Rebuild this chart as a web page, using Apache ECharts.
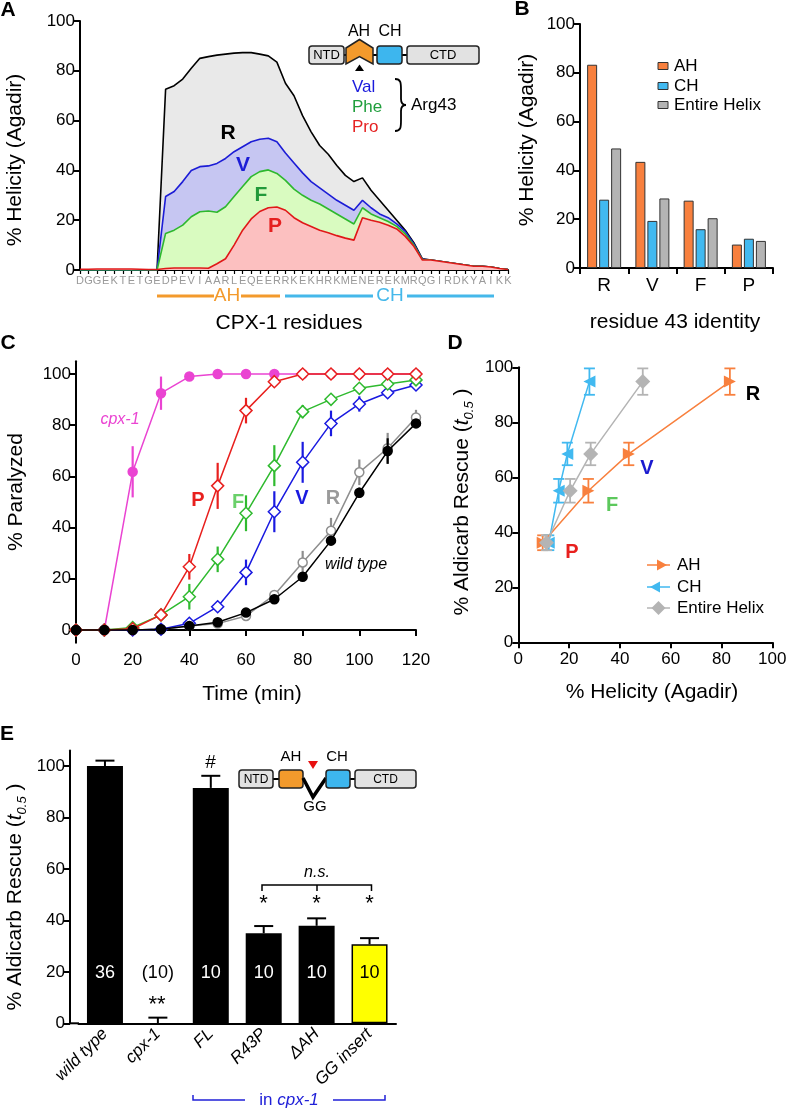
<!DOCTYPE html>
<html><head><meta charset="utf-8">
<script src="https://cdn.jsdelivr.net/npm/echarts@6.0.0/dist/echarts.min.js"></script>
<style>html,body{margin:0;padding:0;background:#fff}#c{width:789px;height:1110px}</style>
</head><body><div id="c"></div><script>
// ---------- DATA ----------
// Panel A
const residues = ['D','G','G','E','K','T','E','T','G','E','D','P','E','V','I','A','A','R','L','E','Q','E','E','R','R','K','E','K','H','R','K','M','E','N','E','R','E','K','M','R','Q','G','I','R','D','K','Y','A','I','K','K'];
const helixR = [0,0,0,0,0,0,0,0,0,0, 72.6,74,76.7,81,85,85.7,86.3,86.7,87.1,87.3, 87.3,86.7,86,83.5,75,70,62,55.5,50,46.5, 42,38,35.5,37,32,28,24,20,16,11, 4.5,4,3.5,3,2.5,2,1.5,1.5,1.2,0.6,0.2];
const helixV = [0,0,0,0,0,0,0,0,0,0, 29.5,31.5,35.5,40,41.5,41.8,42.8,44.8,47.5,49.5, 51.5,52.5,52.9,51.5,47,43,39,35.5,33,30.5, 28,26,24,28,25,22.5,21,18.5,15.5,10.5, 4.3,4,3.5,3,2.5,2,1.5,1.5,1.2,0.6,0.2];
const helixF = [0,0,0,0,0,0,0,0,0,0, 14.7,16,18,21.4,23.4,23.7,23.2,25.4,29.5,33.5, 37.5,39.5,40.2,38.8,36,32.5,30,28,26.5,24.5, 22.5,20.5,18.5,25,22.5,21,19.5,17.5,14.5,10, 4.2,4,3.5,3,2.5,2,1.5,1.5,1.2,0.6,0.2];
const helixP = [0.3,0.3,0.4,0.4,0.4,0.4,0.4,0.3,0.2,0.2, 0.6,0.8,0.8,0.8,0.8,0.7,2.5,4.5,10,16, 20.5,23.5,25,25.3,24,21,19,17.5,16,15, 13.8,12.8,12,21,20,19.2,18,16.5,13.5,9.5, 4,4,3.5,3,2.5,2,1.5,1.5,1.2,0.6,0.2];
// Panel B
const residue43 = ['R','V','F','P'];
const helAH = [83.3, 43.5, 27.6, 9.6];
const helCH = [28, 19.3, 15.9, 12];
const helEntire = [49, 28.5, 20.4, 11.1];
// Panel C
const times = [0,10,20,30,40,50,60,70,80,90,100,110,120];
const parCpx1 = [0,0,61.8,92.5,99,100,100,100,100,100,100,100,100];
const errCpx1 = [0,0,10,6.5,0,0,0,0,0,0,0,0,0];
const parP = [0,0,0.5,5.9,24.7,56.3,85.7,97,100,100,100,100,100];
const errP = [0,0,0,0,5,9,5,0,0,0,0,0,0];
const parF = [0,0,1,5.9,13,27.6,45.6,64.2,85.3,90.1,94.4,96.1,97.7];
const errF = [0,0,0,0,5,5,7,8,2.6,0,0,0,0];
const parV = [0,0,0,0.3,2.6,9.1,22.5,46.2,65.5,80.7,88.3,92.7,95.7];
const errV = [0,0,0,0,0,0,5,8,8,5,3,0,0];
const parR = [0,0,0,0.3,1.6,2.5,5.5,13.7,26.4,38.8,61.6,71,83];
const errR = [0,0,0,0,0,0,0,0,4.5,5,5,6,3];
const parWT = [0,0,0,0.3,1.6,3,6.8,12,20.8,34.9,53.6,69.9,80.7];
const errWT = [0,0,0,0,0,0,0,0,0,0,2,5,0];
// Panel D (x = helicity from panel B, y = rescue)
const rescueD = [94.8, 68.5, 55.1, 36.2];
const rescueErrD = [4.8, 4.1, 4.3, 2.7];
// Panel E
const eCats = ['wild type','cpx-1','FL','R43P','\u0394AH','GG insert'];
const eVals = [100, 0, 91.5, 35, 37.9, 30.7];
const eErr = [2.1, 2.2, 4.7, 2.8, 2.9, 2.4];
const eN = ['36','(10)','10','10','10','10'];
const eSig = ['', '**', '#', '*', '*', '*'];

// ---------- STYLE HELPERS ----------
const FONT = 'Arial, "Liberation Sans", Helvetica, sans-serif';
const C_AH = '#f8803e', C_CH = '#41b9f0', C_EN = '#b4b4b4';
function vAxis(o) {
  const base = {
    axisLine: {show: true, lineStyle: {color: '#000', width: 2}},
    axisTick: {show: true, length: 6, lineStyle: {color: '#000', width: 2}},
    axisLabel: {color: '#000', fontSize: 17, fontFamily: FONT, margin: 5},
    splitLine: {show: false}
  };
  for (const k in o) {
    if (base[k] && typeof o[k] === 'object' && !Array.isArray(o[k])) base[k] = Object.assign({}, base[k], o[k]);
    else base[k] = o[k];
  }
  return base;
}
function errSeries(data, color, xi, yi, cap, upOnly, lw) {
  return {
    type: 'custom', xAxisIndex: xi, yAxisIndex: yi, silent: true, z: 1,
    data: data,
    renderItem: function (params, api) {
      const x = api.value(0), y = api.value(1), e = api.value(2);
      const lo = api.coord([x, upOnly ? y : y - e]);
      const hi = api.coord([x, y + e]);
      const st = {stroke: color, lineWidth: lw || 2};
      const ch = [{type: 'line', shape: {x1: lo[0], y1: lo[1], x2: hi[0], y2: hi[1]}, style: st}];
      if (cap) {
        ch.push({type: 'line', shape: {x1: hi[0] - cap / 2, y1: hi[1], x2: hi[0] + cap / 2, y2: hi[1]}, style: st});
        if (!upOnly) ch.push({type: 'line', shape: {x1: lo[0] - cap / 2, y1: lo[1], x2: lo[0] + cap / 2, y2: lo[1]}, style: st});
      }
      return {type: 'group', children: ch};
    }
  };
}
function pairs(xs, ys) { return xs.map((x, i) => [x, ys[i]]); }
function errData(xs, ys, es) {
  const out = [];
  xs.forEach((x, i) => { if (es[i] > 0) out.push([x, ys[i], es[i]]); });
  return out;
}
function txt(x, y, s, o) {
  o = o || {};
  return {
    type: 'text', x: x, y: y, rotation: o.rot || 0, z: 100,
    style: Object.assign({
      text: s, fill: o.color || '#000', fontSize: o.size || 17, fontFamily: FONT,
      fontWeight: o.bold ? 'bold' : 'normal', fontStyle: o.italic ? 'italic' : 'normal',
      align: o.align || 'center', verticalAlign: 'middle'
    }, o.extra || {})
  };
}
function box(x1, x2, y1, y2, fill) {
  return {type: 'rect', z: 100, shape: {x: x1, y: y1, width: x2 - x1, height: y2 - y1, r: 3},
    style: {fill: fill, stroke: '#222', lineWidth: 1.5}};
}
function seg(x1, y1, x2, y2, color, w) {
  return {type: 'line', z: 100, shape: {x1, y1, x2, y2}, style: {stroke: color || '#000', lineWidth: w || 2}};
}
function poly(pts, fill, stroke, w) {
  return {type: 'polygon', z: 100, shape: {points: pts}, style: {fill: fill, stroke: stroke || null, lineWidth: w || 0}};
}
function pline(pts, color, w) {
  return {type: 'polyline', z: 100, shape: {points: pts}, style: {stroke: color, lineWidth: w || 2, fill: null}};
}
function bez(x1, y1, c1x, c1y, c2x, c2y, x2, y2) {
  return {type: 'bezierCurve', z: 100, shape: {x1, y1, cpx1: c1x, cpy1: c1y, cpx2: c2x, cpy2: c2y, x2, y2},
    style: {stroke: '#000', lineWidth: 1.8, fill: null}};
}

// ---------- GRIDS ----------
const grids = [
  {left: 80, top: 21, width: 428, height: 249},
  {left: 580, top: 24, width: 193, height: 244},
  {left: 76, top: 361.2, width: 340, height: 281.6},
  {left: 518.3, top: 367.3, width: 254, height: 275},
  {left: 78.5, top: 750.6, width: 317.5, height: 272.7}
].map(g => Object.assign({outerBoundsMode: 'none', containLabel: false}, g));

const ticks100 = [0, 20, 40, 60, 80, 100];

const xAxes = [
  vAxis({type: 'category', gridIndex: 0, data: residues, boundaryGap: false,
    axisTick: {length: 4, interval: 0, lineStyle: {width: 1.2}},
    axisLabel: {interval: 0, fontSize: 11, color: '#9a9a9a', margin: 5}}),
  vAxis({type: 'category', gridIndex: 1, data: residue43, boundaryGap: true,
    axisLabel: {fontSize: 19, margin: 8}}),
  vAxis({type: 'value', gridIndex: 2, min: 0, max: 120, interval: 20, axisLabel: {margin: 9}}),
  vAxis({type: 'value', gridIndex: 3, min: 0, max: 100, interval: 20, axisLabel: {margin: 9}}),
  vAxis({type: 'category', gridIndex: 4, data: eCats, boundaryGap: true,
    axisTick: {show: false},
    axisLabel: {interval: 0, rotate: 45, fontStyle: 'italic', fontSize: 17, margin: 8}})
];
const yAxes = [
  vAxis({type: 'value', gridIndex: 0, min: 0, max: 100, interval: 20}),
  vAxis({type: 'value', gridIndex: 1, min: 0, max: 100, interval: 20}),
  vAxis({type: 'value', gridIndex: 2, min: -5, max: 105,
    axisTick: {customValues: ticks100}, axisLabel: {customValues: ticks100}}),
  vAxis({type: 'value', gridIndex: 3, min: 0, max: 100, interval: 20}),
  vAxis({type: 'value', gridIndex: 4, min: 0, max: 106, offset: 8.5,
    axisTick: {customValues: ticks100}, axisLabel: {customValues: ticks100}})
];

// ---------- SERIES ----------
const series = [];
// A: overlapping helicity areas
[[helixR, '#000000', '#e9e9e9'], [helixV, '#1c1cd6', '#c6c6f2'], [helixF, '#2eb82e', '#d9fbc0'], [helixP, '#e01818', '#fcc0c0']]
  .forEach(([d, lc, ac], i) => series.push({
    type: 'line', name: ['R', 'V', 'F', 'P'][i] + ' helicity', xAxisIndex: 0, yAxisIndex: 0, data: d,
    symbol: 'none', lineStyle: {color: lc, width: 1.6}, areaStyle: {color: ac, opacity: 1}, z: 2 + i, silent: true
  }));
// B: bars
[['AH', helAH, C_AH], ['CH', helCH, C_CH], ['Entire Helix', helEntire, C_EN]].forEach(([n, d, c]) => series.push({
  type: 'bar', name: n, xAxisIndex: 1, yAxisIndex: 1, data: d, barWidth: 10, barGap: '20%',
  itemStyle: {color: c, borderColor: '#333', borderWidth: 1}, silent: true
}));
// C: error bars (no caps) then lines
const cSets = [
  ['cpx-1', parCpx1, errCpx1, '#ea44d2', 'circle', 9, true],
  ['R', parR, errR, '#8e8e8e', 'circle', 9, false],
  ['V', parV, errV, '#1a1ae0', 'diamond', 12, false],
  ['F', parF, errF, '#2fba2f', 'diamond', 12, false],
  ['P', parP, errP, '#e8201e', 'diamond', 12, false],
  ['wild type', parWT, errWT, '#000000', 'circle', 9, true]
];
cSets.forEach(([n, d, e, c, sym, sz, filled], i) => {
  series.push(Object.assign(errSeries(errData(times, d, e), c, 2, 2, 0, false, 2.2), {z: 3 + i * 2}));
  const s = {
    type: 'line', name: n + ' paralysis', xAxisIndex: 2, yAxisIndex: 2, data: pairs(times, d),
    symbol: sym, symbolSize: sz, showAllSymbol: true,
    lineStyle: {color: c, width: 1.5},
    itemStyle: {color: filled ? c : '#fff', borderColor: c, borderWidth: 1.5},
    z: 4 + i * 2, silent: true
  };
  if (n === 'wild type') s.markLine = {silent: true, symbol: 'none', label: {show: false},
    lineStyle: {color: '#000', width: 2, type: 'solid'}, data: [{yAxis: 0}], z: 1};
  series.push(s);
});
// D: helicity vs rescue
[['AH', helAH, C_AH, 'triangle', -90, 12], ['CH', helCH, C_CH, 'triangle', 90, 12], ['Entire Helix', helEntire, C_EN, 'diamond', 0, 15]]
  .forEach(([n, hx, c, sym, rot, sz]) => {
    series.push(errSeries(errData(hx, rescueD, rescueErrD), c, 3, 3, 11, false, 1.8));
    series.push({
      type: 'line', name: n + ' vs rescue', xAxisIndex: 3, yAxisIndex: 3, data: pairs(hx, rescueD),
      symbol: sym, symbolRotate: rot, symbolSize: sz, lineStyle: {color: c, width: 1.5},
      itemStyle: {color: c}, z: 5, silent: true
    });
  });
// E: bars + upper error bars + n labels
series.push({
  type: 'bar', name: 'rescue', xAxisIndex: 4, yAxisIndex: 4, barWidth: 36, silent: true,
  data: eVals.map((v, i) => ({value: v, itemStyle: i === 5 ? {color: '#ffff00', borderColor: '#000', borderWidth: 1.5} : {color: '#000'}}))
});
series.push(Object.assign(errSeries(eVals.map((v, i) => [i, v, eErr[i]]), '#000', 4, 4, 19, true, 2), {z: 3}));
const N_LABEL_Y = 19.5;
series.push({
  type: 'scatter', name: 'n', xAxisIndex: 4, yAxisIndex: 4, symbolSize: 1, silent: true, z: 6,
  itemStyle: {opacity: 0},
  data: eN.map((t, i) => ({value: [i, N_LABEL_Y], label: {show: true, position: 'inside', formatter: t,
    color: (i === 1 || i === 5) ? '#000' : '#fff', textBorderWidth: 0, opacity: 1, fontSize: 18, fontFamily: FONT}}))
});

// ---------- GRAPHIC (titles, annotations, schematics) ----------
const g = [];
[['A', 8, 10], ['B', 522, 9], ['C', 8, 343], ['D', 455, 343], ['E', 7, 734]].forEach(([s, x, y]) => g.push(txt(x, y, s, {bold: true, size: 21})));
g.push(txt(15, 160, '% Helicity (Agadir)', {size: 21, rot: Math.PI / 2}));
g.push(txt(289, 323, 'CPX-1 residues', {size: 21}));
g.push(txt(527, 140, '% Helicity (Agadir)', {size: 21, rot: Math.PI / 2}));
g.push(txt(675, 322, 'residue 43 identity', {size: 21}));
g.push(txt(16, 492, '% Paralyzed', {size: 21, rot: Math.PI / 2}));
g.push(txt(252, 694, 'Time (min)', {size: 21}));
g.push(txt(652, 692, '% Helicity (Agadir)', {size: 21}));
const richT = {
  n: {fontSize: 21, fontFamily: FONT, lineHeight: 28, verticalAlign: 'middle'},
  t: {fontSize: 21, fontFamily: FONT, fontStyle: 'italic', lineHeight: 28, verticalAlign: 'middle'},
  s: {fontSize: 13, fontFamily: FONT, fontStyle: 'italic', lineHeight: 14, verticalAlign: 'bottom'}
};
g.push(txt(462, 502, '{n|% Aldicarb Rescue (}{t|t}{s|0.5}{n| )}', {rot: Math.PI / 2, extra: {rich: richT}}));
g.push(txt(15, 897, '{n|% Aldicarb Rescue (}{t|t}{s|0.5}{n| )}', {rot: Math.PI / 2, extra: {rich: richT}}));
// A: curve labels
g.push(txt(228, 133, 'R', {bold: true, size: 21}));
g.push(txt(243, 165, 'V', {bold: true, size: 21, color: '#1c1cd6'}));
g.push(txt(261, 195, 'F', {bold: true, size: 21, color: '#229a3a'}));
g.push(txt(275, 226, 'P', {bold: true, size: 21, color: '#e52020'}));
// A: AH / CH bars under residues
g.push(seg(157, 296, 214, 296, '#f39a2c', 3), seg(241, 296, 280, 296, '#f39a2c', 3));
g.push(txt(227, 296, 'AH', {size: 19, color: '#f39a2c'}));
g.push(seg(285, 296, 373, 296, '#45b8ea', 3), seg(407, 296, 494, 296, '#45b8ea', 3));
g.push(txt(390, 296, 'CH', {size: 19, color: '#45b8ea'}));
// A: domain schematic
g.push(seg(344, 55, 407, 55, '#000', 2));
g.push(box(309, 344, 46, 64, '#e2e2e2'), txt(326.5, 55.5, 'NTD', {size: 13}));
g.push(poly([[346, 48], [359.5, 39.5], [373, 48], [373, 64], [359.5, 56.5], [346, 64]], '#f39a2c', '#222', 1.5));
g.push(box(377, 402, 46, 64, '#3db6ee'));
g.push(box(407, 479, 46, 64, '#e2e2e2'), txt(443, 55.5, 'CTD', {size: 13}));
g.push(txt(359, 32, 'AH', {size: 16}), txt(390, 32, 'CH', {size: 16}));
g.push(poly([[355, 71], [364, 71], [359.5, 64.5]], '#000'));
g.push(txt(352, 87, 'Val', {size: 17, color: '#1a1adc', align: 'left'}));
g.push(txt(352, 107, 'Phe', {size: 17, color: '#1f9e3c', align: 'left'}));
g.push(txt(352, 127, 'Pro', {size: 17, color: '#e52222', align: 'left'}));
g.push(bez(395, 79, 401, 79, 401, 83, 401, 90), seg(401, 90, 401, 99, '#000', 1.8),
  bez(401, 99, 401, 103, 402, 105, 406, 105), bez(406, 105, 402, 105, 401, 107, 401, 111),
  seg(401, 111, 401, 120, '#000', 1.8), bez(401, 120, 401, 127, 401, 131, 395, 131));
g.push(txt(411, 105, 'Arg43', {size: 17, align: 'left'}));
// B legend
[['AH', C_AH, 66], ['CH', C_CH, 86], ['Entire Helix', C_EN, 105]].forEach(([n, c, y]) => {
  g.push({type: 'rect', z: 100, shape: {x: 658, y: y - 3.5, width: 10, height: 7}, style: {fill: c, stroke: '#333', lineWidth: 1}});
  g.push(txt(674, y, n, {size: 17, align: 'left'}));
});
// C labels
g.push(txt(120, 420, 'cpx-1', {size: 16, italic: true, color: '#ea44d2'}));
g.push(txt(198, 500, 'P', {bold: true, size: 20, color: '#e8201e'}));
g.push(txt(238, 502, 'F', {bold: true, size: 20, color: '#6ad06a'}));
g.push(txt(302, 498, 'V', {bold: true, size: 20, color: '#1a1ae0'}));
g.push(txt(333, 498, 'R', {bold: true, size: 20, color: '#9a9a9a'}));
g.push(txt(356, 565, 'wild type', {size: 16, italic: true}));
// D labels
g.push(txt(753, 394, 'R', {bold: true, size: 20}));
g.push(txt(647, 468, 'V', {bold: true, size: 20, color: '#1a1ad0'}));
g.push(txt(612, 505, 'F', {bold: true, size: 20, color: '#5cc85c'}));
g.push(txt(572, 552, 'P', {bold: true, size: 20, color: '#e8201e'}));
// D legend
g.push(seg(647, 565, 670, 565, C_AH, 1.5), poly([[657, 559.5], [667, 565], [657, 570.5]], C_AH));
g.push(txt(677, 565, 'AH', {size: 17, align: 'left'}));
g.push(seg(647, 587, 670, 587, C_CH, 1.5), poly([[660, 581.5], [650, 587], [660, 592.5]], C_CH));
g.push(txt(677, 587, 'CH', {size: 17, align: 'left'}));
g.push(seg(647, 608, 670, 608, C_EN, 1.5), poly([[658.5, 601], [665.5, 608], [658.5, 615], [651.5, 608]], C_EN));
g.push(txt(677, 608, 'Entire Helix', {size: 17, align: 'left'}));
// E: axis line extension to y-axis
g.push(seg(69, 1023.3, 79, 1023.3, '#000', 2));
// E: significance marks and n.s. bracket
g.push(txt(157, 1005, eSig[1], {size: 22}));
g.push(txt(210.5, 763, eSig[2], {size: 19}));
g.push(txt(263.5, 904, eSig[3], {size: 22}), txt(316.5, 904, eSig[4], {size: 22}), txt(369.5, 904, eSig[5], {size: 22}));
g.push(pline([[262, 891], [262, 885], [371.5, 885], [371.5, 891]], '#000', 1.5), seg(317, 885, 317, 891, '#000', 1.5));
g.push(txt(317, 873, 'n.s.', {size: 16, italic: true}));
// E: "in cpx-1" bracket
g.push(pline([[193, 1095], [193, 1100], [245, 1100]], '#2020d8', 1.5), pline([[333, 1100], [385, 1100], [385, 1095]], '#2020d8', 1.5));
g.push(txt(289, 1100, '{a|in }{b|cpx-1}', {extra: {rich: {
  a: {fontSize: 17, fontFamily: FONT, fill: '#2020d8'}, b: {fontSize: 17, fontFamily: FONT, fontStyle: 'italic', fill: '#2020d8'}}}}));
// E: GG-insert schematic
g.push(seg(273, 779, 279, 779, '#000', 2), seg(350, 779, 355, 779, '#000', 2));
g.push(box(239, 273, 770, 788, '#e2e2e2'), txt(256, 779.5, 'NTD', {size: 12}));
g.push(box(279, 303, 770, 788, '#f39a2c'));
g.push(pline([[303, 778], [313, 797], [326, 778]], '#000', 3.5));
g.push(box(326, 350, 770, 788, '#3db6ee'));
g.push(box(355, 416, 770, 788, '#e2e2e2'), txt(385.5, 779.5, 'CTD', {size: 12}));
g.push(txt(291, 757, 'AH', {size: 15}), txt(337, 757, 'CH', {size: 15}));
g.push(poly([[308, 761], [318, 761], [313, 769]], '#e81010'));
g.push(txt(315, 807, 'GG', {size: 15}));

const chart = echarts.init(document.getElementById('c'), null, {renderer: 'canvas'});
chart.setOption({
  animation: false,
  backgroundColor: '#fff',
  textStyle: {fontFamily: FONT},
  grid: grids,
  xAxis: xAxes,
  yAxis: yAxes,
  series: series,
  graphic: g
});
</script></body></html>
